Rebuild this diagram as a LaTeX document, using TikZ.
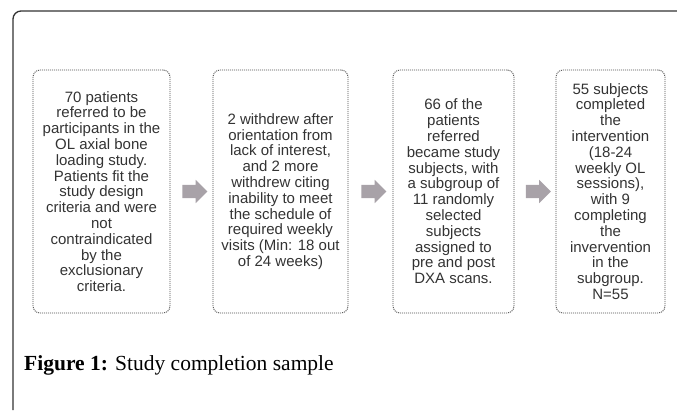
\documentclass[tikz,border=0pt]{standalone}
\usepackage{fontspec}
\setmainfont{Liberation Serif}
\newfontfamily\boxfont{Liberation Sans}
\usetikzlibrary{shapes,shapes.arrows,calc,positioning}
\definecolor{boxtext}{HTML}{333333}
\definecolor{arrowgray}{HTML}{A8A2A8}
\tikzset{
	stagebox/.style={rectangle,rounded corners=7pt,draw=black!70,line width=0.9pt,dash pattern=on 1pt off 1pt,
		minimum height=243pt,inner sep=2pt,align=center,text=boxtext,
		font=\boxfont\fontsize{15}{15.8}\selectfont},
	blockarrow/.style={single arrow,fill=arrowgray,draw=none,minimum height=25pt,minimum width=23pt,
		single arrow head extend=5pt,inner sep=6.5pt},
	caption/.style={anchor=base west,inner sep=0pt,font=\fontsize{21.5}{24}\selectfont}
}
\begin{document}
\begin{tikzpicture}[x=1pt,y=-1pt]
		\useasboundingbox (0,0) rectangle (677,410);
		
		\draw[line width=1.3pt,color=black!80,rounded corners=8pt] (13,410) -- (13,11) -- (677,11);
		
		\node [stagebox,minimum width=137pt] (patients) at (101.5,191.5) {70 patients\\referred to be\\participants in the\\OL axial bone\\loading study.\\Patients fit the\\study design\\criteria and were\\not\\contraindicated\\by the\\exclusionary\\criteria.};
		\node [stagebox,minimum width=135pt] (withdrew) at (280.5,191.5) {2 withdrew after\\orientation from\\lack of interest,\\and 2 more\\withdrew citing\\inability to meet\\the schedule of\\required weekly\\visits (Min: 18 out\\of 24 weeks)};
		\node [stagebox,minimum width=121pt] (subjects) at (453.5,191.5) {66 of the\\patients\\referred\\became study\\subjects, with\\a subgroup of\\11 randomly\\selected\\subjects\\assigned to\\pre and post\\DXA scans.};
		\node [stagebox,minimum width=109pt] (completed) at (610.5,191.5) {55 subjects\\completed\\the\\intervention\\(18-24\\weekly OL\\sessions),\\with 9\\completing\\the\\invervention\\in the\\subgroup.\\N=55};
		
		\node [blockarrow] (arrowA) at ($(patients.east)!0.5!(withdrew.west)$) {};
		\node [blockarrow] (arrowB) at ($(withdrew.east)!0.5!(subjects.west)$) {};
		\node [blockarrow] (arrowC) at ($(subjects.east)!0.5!(completed.west)$) {};
		
		\node [caption] (figcaption) at (24,370) {\textbf{Figure 1:} Study completion sample};
		
	\end{tikzpicture}
\end{document}
